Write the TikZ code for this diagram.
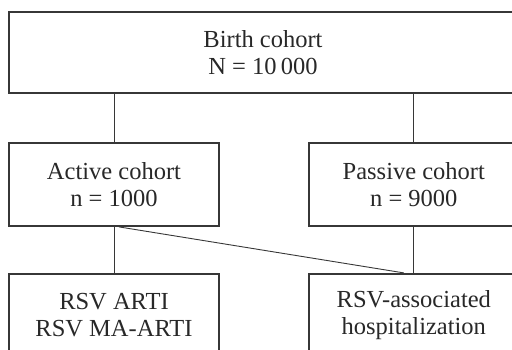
\documentclass[tikz,border=0pt]{standalone}
\usepackage{fontspec}
\setmainfont{Liberation Serif}
\usepackage{tikz}
\usetikzlibrary{positioning}
\definecolor{frame}{RGB}{55,55,55}
\definecolor{ink}{RGB}{40,40,40}

\begin{document}
\begin{tikzpicture}[x=1pt, y=1pt, node distance=88pt,
box/.style={draw=frame, line width=1.8pt, text=ink, align=center, minimum width=210pt, minimum height=83pt, inner sep=0pt, font=\fontsize{24.5}{27}\selectfont},
link/.style={draw=frame, line width=0.9pt}]
\useasboundingbox (0,0) rectangle (512,-350);

% boxes
\node [box, minimum width=508pt, minimum height=81pt](birth) at (263,-52.5) {Birth cohort\\N = 10\,000};
\node [box](active) at (114,-184.5) {Active cohort\\n = 1000};
\node [box, right = of active](passive) {Passive cohort\\n = 9000};
\node [box, below = 46pt of active](arti) {RSV ARTI\\RSV MA-ARTI};
\node [box, below = 46pt of passive](hosp) {RSV-associated\\hospitalization};

% lines
\draw [link] (active.north) -- (active.north |- birth.south);
\draw [link] (passive.north) -- (passive.north |- birth.south);
\draw [link] (active.south) -- (arti.north);
\draw [link] (passive.south) -- (hosp.north);
\draw [link] ([xshift=5pt]active.south) -- ([xshift=-10pt]hosp.north);
\end{tikzpicture}
\end{document}
